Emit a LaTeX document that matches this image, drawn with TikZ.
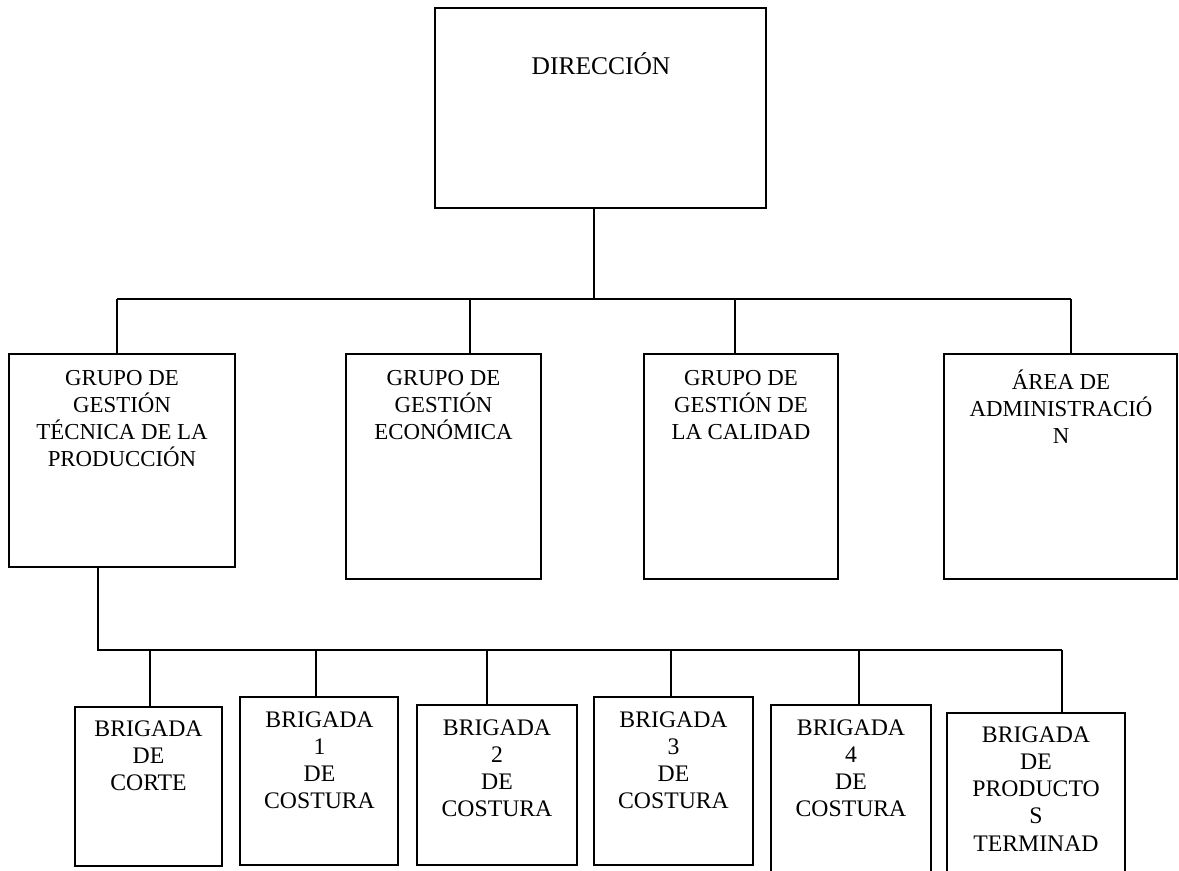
\documentclass[tikz,border=0pt]{standalone}
\usepackage{fontspec}
\setmainfont{Liberation Serif}
\usetikzlibrary{fit}
\begin{document}
\begin{tikzpicture}[x=0.02cm, y=-0.02cm,
    caja/.style = {draw, line width=1.1pt, inner sep=0pt},
    rotulo/.style = {anchor = north, align = center, inner sep=0pt,
      font = \fontsize{13}{15.3}\selectfont, execute at begin node = \strut},
    brigada/.style = {rotulo, font = \fontsize{13.5}{15.5}\selectfont},
    linea/.style = {line width=0.6pt},
    barra/.style = {line width=1.1pt}]
  \useasboundingbox (0,0) rectangle (1179,870);

  \node[caja, fit={(435,8) (766,208)}] (dir) {};
  \node[rotulo, font = \fontsize{14.5}{17}\selectfont] (dirtxt) at (601,52) {DIRECCIÓN};

  \node[caja, fit={(9,354) (235,567)}] (g1) {};
  \node[caja, fit={(346,354) (541,579)}] (g2) {};
  \node[caja, fit={(644,354) (838,579)}] (g3) {};
  \node[caja, fit={(944,354) (1177,579)}] (g4) {};
  \node[rotulo] (g1txt) at (122,370) {GRUPO DE\\GESTIÓN\\TÉCNICA DE LA\\PRODUCCIÓN};
  \node[rotulo] (g2txt) at (443.5,370) {GRUPO DE\\GESTIÓN\\ECONÓMICA};
  \node[rotulo] (g3txt) at (741,370) {GRUPO DE\\GESTIÓN DE\\LA CALIDAD};
  \node[rotulo] (g4txt) at (1061,370) {ÁREA DE\\ADMINISTRACIÓ\\N};

  \node[caja, fit={(75,707) (222,866)}] (b1) {};
  \node[caja, fit={(240,697) (398,865)}] (b2) {};
  \node[caja, fit={(417,705) (577,865)}] (b3) {};
  \node[caja, fit={(594,697) (753,865)}] (b4) {};
  \node[caja, fit={(771,705) (931,880)}] (b5) {};
  \node[caja, fit={(947,713) (1125,880)}] (b6) {};
  \node[brigada] (b1txt) at (148.5,720) {BRIGADA\\DE\\CORTE};
  \node[brigada] (b2txt) at (319.5,711) {BRIGADA\\1\\DE\\COSTURA};
  \node[brigada] (b3txt) at (497,719) {BRIGADA\\2\\DE\\COSTURA};
  \node[brigada] (b4txt) at (673.5,711) {BRIGADA\\3\\DE\\COSTURA};
  \node[brigada] (b5txt) at (851,719) {BRIGADA\\4\\DE\\COSTURA};
  \node[brigada] (b6txt) at (1036,726) {BRIGADA\\DE\\PRODUCTO\\S\\TERMINAD};

  \coordinate (tm) at (594,299);
  \coordinate (t1) at (117,299);
  \coordinate (t2) at (470,299);
  \coordinate (t3) at (735,299);
  \coordinate (t4) at (1071,299);
  \draw[linea] (tm |- dir.south) -- (tm);
  \draw[barra] (t1) -- (t4);
  \foreach \i in {1,...,4}
    \draw[linea] (t\i) -- (t\i |- g\i.north);

  \coordinate (bl) at (98,650);
  \coordinate (s1) at (150,650);
  \coordinate (s2) at (316,650);
  \coordinate (s3) at (487,650);
  \coordinate (s4) at (671,650);
  \coordinate (s5) at (859,650);
  \coordinate (s6) at (1062,650);
  \draw[barra] (bl |- g1.south) -- (bl) -- (s6);
  \foreach \i in {1,...,6}
    \draw[linea] (s\i) -- (s\i |- b\i.north);
\end{tikzpicture}
\end{document}
